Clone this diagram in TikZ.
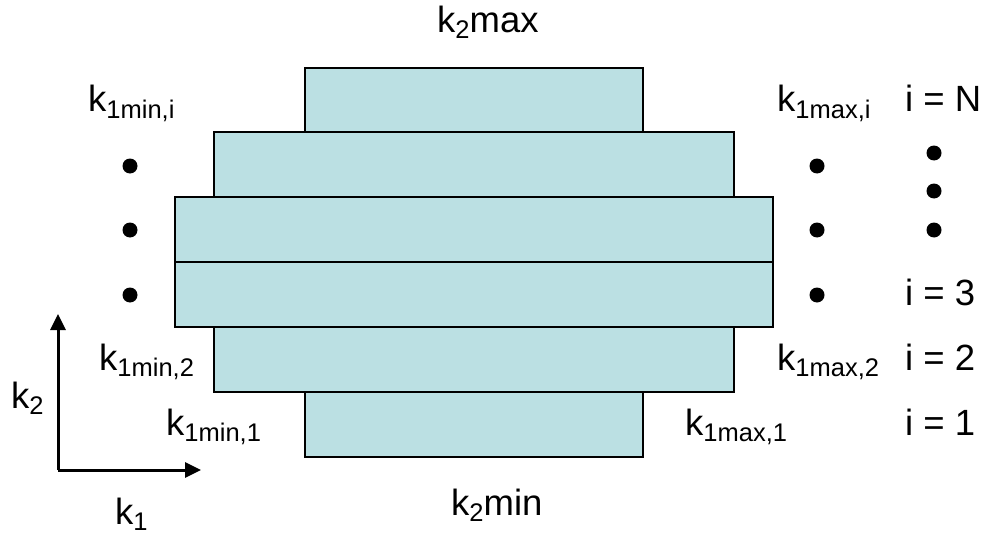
\documentclass[tikz,border=0pt]{standalone}
\usepackage{fontspec}
\setmainfont{Liberation Sans}
\usetikzlibrary{arrows.meta}
\newcommand\mysub[1]{\raisebox{-6pt}{\fontsize{25.5}{25.5}\selectfont #1}}
\definecolor{slabfill}{HTML}{BBE0E3}
\tikzset{
  slab/.style={draw=black, fill=slabfill, line width=2pt},
  lbl/.style={anchor=base west, inner sep=0pt, font=\fontsize{36.5}{40}\selectfont},
  dotmark/.style={fill=black},
  axis/.style={line width=3pt, -{Triangle[length=16pt,width=15pt]}}
}
\begin{document}
\begin{tikzpicture}[x=1pt,y=-1pt]
\useasboundingbox (0,0) rectangle (989,535);
% slabs
\draw[slab] (305,68) rectangle (643,132);
\draw[slab] (214,132) rectangle (734,197);
\draw[slab] (175,197) rectangle (773,262);
\draw[slab] (175,262) rectangle (773,327);
\draw[slab] (214,327) rectangle (734,392);
\draw[slab] (305,392) rectangle (643,457);
% dots
\foreach \yy in {166,230,295} {
  \fill[dotmark] (130,\yy) circle (7.5);
  \fill[dotmark] (817,\yy) circle (7.5);
}
\foreach \yy in {153,191,230} {
  \fill[dotmark] (934,\yy) circle (7.5);
}
% labels
\node[lbl] (k2max) at (437,33) {k\mysub{2}max};
\node[lbl] (k2min) at (451,515) {k\mysub{2}min};
\node[lbl] (kmini) at (88,112) {k\mysub{1min,i}};
\node[lbl] (kmaxi) at (777,112) {k\mysub{1max,i}};
\node[lbl] (iN) at (905,112) {i = N};
\node[lbl] (i3) at (905,305) {i = 3};
\node[lbl] (kmax2) at (777,370) {k\mysub{1max,2}};
\node[lbl] (i2) at (905,370) {i = 2};
\node[lbl] (kmax1) at (685,435) {k\mysub{1max,1}};
\node[lbl] (i1) at (905,435) {i = 1};
\node[lbl] (kmin2) at (99,370) {k\mysub{1min,2}};
\node[lbl] (kmin1) at (166,435) {k\mysub{1min,1}};
\node[lbl] (k2) at (11,408) {k\mysub{2}};
\node[lbl] (k1) at (115,524) {k\mysub{1}};
% axes
\coordinate (origin) at (58,470);
\coordinate (ytip) at (58,314);
\coordinate (xtip) at (201,470);
\draw[axis] (origin) -- (ytip);
\draw[axis] (origin) -- (xtip);
\end{tikzpicture}
\end{document}
